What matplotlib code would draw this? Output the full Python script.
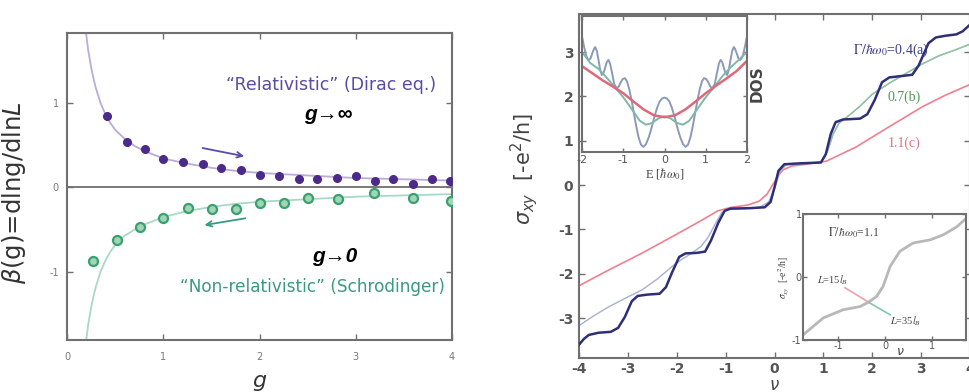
import matplotlib
matplotlib.use('Agg')
import matplotlib.pyplot as plt

plt.rcParams['axes.unicode_minus'] = False

## donnees panneau gauche (fonction beta)
g_dirac = [0.42, 0.62, 0.81, 1.0, 1.2, 1.41, 1.6, 1.81, 2.01, 2.2, 2.41, 2.6, 2.8, 3.0, 3.2, 3.39, 3.59, 3.79, 3.98]
beta_dirac = [0.84, 0.54, 0.45, 0.34, 0.30, 0.27, 0.23, 0.21, 0.15, 0.13, 0.10, 0.10, 0.11, 0.13, 0.07, 0.10, 0.04, 0.10, 0.07]
g_schr = [0.27, 0.52, 0.76, 1.0, 1.26, 1.51, 1.76, 2.0, 2.25, 2.5, 2.82, 3.19, 3.59, 3.99]
beta_schr = [-0.87, -0.62, -0.47, -0.36, -0.24, -0.25, -0.25, -0.19, -0.19, -0.13, -0.14, -0.07, -0.13, -0.16]

g_fit = [0.2, 0.22, 0.25, 0.28, 0.3, 0.35, 0.4, 0.45, 0.5, 0.6, 0.7, 0.8, 1.0, 1.25, 1.5, 1.75, 2.0, 2.5, 3.0, 3.5, 4.0]
beta_fit_dirac = [1.80, 1.62, 1.42, 1.26, 1.17, 0.99, 0.86, 0.76, 0.68, 0.57, 0.49, 0.43, 0.34, 0.28, 0.23, 0.195, 0.17, 0.14, 0.11, 0.095, 0.08]
beta_fit_schr = [-1.80, -1.62, -1.42, -1.26, -1.17, -0.99, -0.86, -0.76, -0.68, -0.57, -0.50, -0.44, -0.35, -0.28, -0.23, -0.195, -0.17, -0.14, -0.11, -0.095, -0.08]

## donnees panneau droit (sigma_xy)
nu_a = [-4.0, -3.9, -3.8, -3.6, -3.35, -3.2, -3.06, -2.92, -2.8, -2.6, -2.35, -2.22, -2.1, -1.95, -1.82, -1.6, -1.42,
        -1.3, -1.15, -1.02, -0.9, -0.5, -0.2, -0.08, 0.0, 0.08, 0.2, 0.5, 0.95, 1.05, 1.15, 1.25, 1.4, 1.75, 1.9, 2.05,
        2.2, 2.35, 2.6, 2.82, 2.95, 3.05, 3.15, 3.3, 3.5, 3.72, 3.85, 4.0]
sxy_a = [-3.60, -3.47, -3.38, -3.33, -3.31, -3.22, -2.97, -2.62, -2.50, -2.47, -2.45, -2.30, -1.98, -1.62, -1.54, -1.53,
         -1.50, -1.25, -0.85, -0.58, -0.53, -0.52, -0.50, -0.38, -0.05, 0.32, 0.47, 0.49, 0.51, 0.70, 1.15, 1.42, 1.48,
         1.50, 1.60, 1.92, 2.32, 2.43, 2.46, 2.49, 2.70, 2.95, 3.20, 3.33, 3.37, 3.40, 3.47, 3.62]
nu_b = [-4.0, -3.7, -3.4, -3.05, -2.72, -2.4, -2.11, -1.9, -1.7, -1.5, -1.36, -1.2, -1.08, -0.95, -0.6, -0.3, -0.12,
        0.0, 0.12, 0.25, 0.6, 0.95, 1.08, 1.2, 1.32, 1.5, 1.75, 2.0, 2.35, 2.69, 3.0, 3.37, 3.7, 4.0]
sxy_b = [-3.17, -2.95, -2.75, -2.55, -2.37, -2.12, -1.85, -1.68, -1.54, -1.38, -1.18, -0.85, -0.62, -0.55, -0.53, -0.50,
         -0.38, -0.08, 0.33, 0.46, 0.49, 0.52, 0.75, 1.15, 1.40, 1.55, 1.78, 2.05, 2.30, 2.52, 2.72, 2.92, 3.05, 3.18]
nu_c = [-4.0, -3.4, -2.72, -2.04, -1.5, -1.16, -0.88, -0.55, -0.31, -0.15, -0.03, 0.08, 0.17, 0.35, 0.65, 1.06, 1.67,
        2.35, 3.03, 3.5, 4.0]
sxy_c = [-2.27, -1.92, -1.54, -1.13, -0.80, -0.58, -0.50, -0.45, -0.36, -0.20, 0.02, 0.22, 0.34, 0.43, 0.47, 0.54, 0.86,
         1.32, 1.77, 2.03, 2.27]

## encart DOS
E_a = [-2.0, -1.95, -1.9, -1.86, -1.83, -1.79, -1.75, -1.71, -1.68, -1.64, -1.6, -1.56, -1.52, -1.48, -1.44, -1.4,
       -1.36, -1.32, -1.27, -1.22, -1.16, -1.11, -1.06, -1.01, -0.96, -0.91, -0.86, -0.8, -0.75, -0.69, -0.63, -0.57,
       -0.51, -0.45, -0.38, -0.31, -0.25, -0.18, -0.12, -0.06, 0.0,
       0.06, 0.12, 0.18, 0.25, 0.31, 0.38, 0.45, 0.51, 0.57, 0.63, 0.69, 0.75, 0.8, 0.86, 0.91, 0.96, 1.01, 1.06,
       1.11, 1.16, 1.22, 1.27, 1.32, 1.36, 1.4, 1.44, 1.48, 1.52, 1.56, 1.6, 1.64, 1.68, 1.71, 1.75, 1.79, 1.83, 1.86,
       1.9, 1.95, 2.0]
dos_a = [3.35, 3.12, 2.92, 2.84, 2.82, 2.86, 2.97, 3.07, 3.11, 3.02, 2.82, 2.60, 2.48, 2.52, 2.64, 2.77,
         2.82, 2.74, 2.52, 2.28, 2.18, 2.22, 2.32, 2.39, 2.41, 2.34, 2.18, 1.92, 1.66, 1.35, 1.08, 0.91,
         0.86, 0.92, 1.08, 1.30, 1.52, 1.74, 1.88, 1.95, 1.97,
         1.95, 1.88, 1.74, 1.52, 1.30, 1.08, 0.92, 0.86, 0.91, 1.08, 1.35, 1.66, 1.92, 2.18, 2.34, 2.41, 2.39, 2.32,
         2.22, 2.18, 2.28, 2.52, 2.74, 2.82, 2.77, 2.64, 2.52, 2.48, 2.60, 2.82, 3.02, 3.11, 3.07, 2.97, 2.86, 2.82,
         2.84, 2.92, 3.12, 3.35]
E_b = [-2.0, -1.8, -1.6, -1.4, -1.2, -1.0, -0.8, -0.6, -0.45, -0.3, -0.15, 0.0, 0.15, 0.3, 0.45, 0.6, 0.8, 1.0, 1.2,
       1.4, 1.6, 1.8, 2.0]
dos_b = [3.00, 2.75, 2.62, 2.42, 2.20, 1.98, 1.72, 1.45, 1.36, 1.40, 1.50, 1.55, 1.50, 1.40, 1.36, 1.45, 1.72, 1.98,
         2.20, 2.45, 2.65, 2.82, 3.00]
E_c = [-2.0, -1.75, -1.5, -1.25, -1.0, -0.75, -0.5, -0.25, 0.0, 0.25, 0.5, 0.75, 1.0, 1.25, 1.5, 1.75, 2.0]
dos_c = [2.68, 2.52, 2.36, 2.22, 2.07, 1.88, 1.70, 1.57, 1.53, 1.57, 1.70, 1.88, 2.07, 2.24, 2.40, 2.57, 2.80]

## encart taille finie
nu_L = [-1.74, -1.31, -0.89, -0.53, -0.35, -0.18, -0.04, 0.11, 0.32, 0.6, 0.96, 1.24, 1.53, 1.72]
sxy_L = [-0.92, -0.65, -0.52, -0.47, -0.40, -0.31, -0.15, 0.17, 0.41, 0.54, 0.59, 0.67, 0.80, 0.93]
nu_L15 = [-0.85, -0.35]
sxy_L15 = [-0.17, -0.40]
nu_L35 = [-0.35, 0.11]
sxy_L35 = [-0.40, -0.60]

W, H = 969, 392
gris = '#707070'
violet = '#4b2a8a'
vert = '#3a9a80'

fig = plt.figure(figsize=(W/100, H/100), dpi=100)


def cadre(ax, couleur=gris, lw=1.5):
    for s in ax.spines.values():
        s.set_color(couleur)
        s.set_linewidth(lw)


## PANNEAU GAUCHE
ax1 = fig.add_axes([67/W, 52/H, 385/W, 307/H])
ax1.plot(g_fit, beta_fit_dirac, color='#b9acd9', lw=1.3, zorder=2)
ax1.plot(g_fit, beta_fit_schr, color='#a9d9c4', lw=1.3, zorder=2)
ax1.axhline(0, color='#555555', lw=1.1, zorder=1)
ax1.plot(g_dirac, beta_dirac, 'o', color=violet, ms=5.5, zorder=3)
ax1.plot(g_schr, beta_schr, 'o', mfc='#9fd6b4', mec='#3aa070', mew=1.6, ms=6.5, zorder=3)
ax1.set_xlim(0, 4)
ax1.set_ylim(-1.8, 1.82)
ax1.set_xticks([0, 1, 2, 3, 4])
ax1.set_yticks([-1, 0, 1])
ax1.tick_params(direction='in', top=True, right=True, length=4, width=1, color=gris,
                labelsize=7, labelcolor='#777777')
ax1.tick_params(axis='x', pad=9)
ax1.tick_params(axis='y', pad=6)
cadre(ax1)
ax1.set_ylabel(r'$\beta$(g)=dlng/dln$L$', fontsize=17.5, color='#333333', math_fontfamily='dejavusans')
ax1.yaxis.set_label_coords(-0.1, 0.48)
ax1.set_xlabel('g', fontsize=16, style='italic', color='#333333')
ax1.xaxis.set_label_coords(0.5, -0.1)

ax1.text(2.74, 1.21, '\u201cRelativistic\u201d (Dirac eq.)', color='#5b4ba6', fontsize=12.5,
         ha='center', va='center')
ax1.text(2.55, -1.18, '\u201cNon-relativistic\u201d (Schrodinger)', color=vert, fontsize=12.2,
         ha='center', va='center')
ax1.text(2.72, 0.86, 'g\u2192\u221e', fontsize=15, weight='bold', style='italic',
         family=['Liberation Sans', 'DejaVu Sans'], ha='center', va='center')
ax1.text(2.78, -0.81, 'g\u21920', fontsize=15, weight='bold', style='italic',
         family=['Liberation Sans', 'DejaVu Sans'], ha='center', va='center')
ax1.annotate('', xy=(1.87, 0.36), xytext=(1.38, 0.47),
             arrowprops=dict(arrowstyle='->', color='#5b4ba6', lw=1.3))
ax1.annotate('', xy=(1.40, -0.45), xytext=(1.88, -0.36),
             arrowprops=dict(arrowstyle='->', color=vert, lw=1.3))

## PANNEAU DROIT
ax2 = fig.add_axes([579/W, 34/H, 391/W, 344/H])
ax2.plot(nu_c, sxy_c, color='#f08090', lw=1.2, zorder=2)
ax2.plot(nu_b, sxy_b, color='#a6b0cf', lw=1.0, zorder=2)
ax2.plot([v for v in nu_b if v >= 1.0], [s for v, s in zip(nu_b, sxy_b) if v >= 1.0], color='#8cc79a', lw=1.0, zorder=2)
ax2.plot(nu_a, sxy_a, color='#2e2f78', lw=1.8, zorder=3)
ax2.set_xlim(-4, 4)
ax2.set_ylim(-3.9, 3.86)
ax2.set_xticks(range(-4, 5))
ax2.set_yticks(range(-3, 4))
ax2.tick_params(direction='in', top=True, right=True, length=4, width=1, color=gris,
                labelsize=10, labelcolor='#555555', pad=4)
ax2.tick_params(axis='x', pad=3)
for lab in ax2.get_xticklabels() + ax2.get_yticklabels():
    lab.set_fontweight('bold')
cadre(ax2)
ax2.set_ylabel(r'$\sigma_{xy}$  [-e$^2$/h]', fontsize=15, color='#444444', math_fontfamily='dejavusans')
ax2.yaxis.set_label_coords(-0.1, 0.55)
ax2.set_xlabel(r'$\nu$', fontsize=12, color='#444444')
ax2.xaxis.set_label_coords(0.5, -0.052)

serif = ['Liberation Serif', 'DejaVu Serif']
ax2.text(3.15, 3.05, r'$\Gamma/\hbar\omega_0$=0.4(a)', color='#3a3a8a', fontsize=10, family=serif,
         math_fontfamily='stix', ha='right', va='center')
ax2.text(2.65, 1.99, '0.7(b)', color='#4a9a5a', fontsize=10, family=serif, ha='center', va='center')
ax2.text(2.65, 0.95, '1.1(c)', color='#e07080', fontsize=10, family=serif, ha='center', va='center')

## ENCART DOS
ins1 = fig.add_axes([582/W, 240/H, 165/W, 136/H])
ins1.plot(E_a, dos_a, color='#8c9ab8', lw=1.4)
ins1.plot(E_b, dos_b, color='#80b8a8', lw=1.4)
ins1.plot(E_c, dos_c, color='#e06878', lw=1.8)
ins1.set_xlim(-2, 2)
ins1.set_ylim(0.745, 3.81)
ins1.set_xticks([-2, -1, 0, 1, 2])
ins1.set_yticks([1, 2, 3])
ins1.set_yticklabels([])
ins1.tick_params(direction='in', top=True, right=True, length=3, width=1, color=gris,
                 labelsize=8, labelcolor='#555555', pad=2)
cadre(ins1)
ins1.set_xlabel(r'E [$\hbar\omega_0$]', fontsize=9, family=serif, math_fontfamily='stix',
                color='#444444', labelpad=1)
ins1.yaxis.set_label_position('right')
ins1.set_ylabel('DOS', fontsize=11, weight='bold', color='#444444', labelpad=2)

## ENCART TAILLE FINIE
ins2 = fig.add_axes([803/W, 52/H, 163/W, 126/H])
ins2.plot(nu_L, sxy_L, color='#b8b8b8', lw=2.0)
ins2.plot(nu_L15, sxy_L15, color='#f0a0b0', lw=1.2)
ins2.plot(nu_L35, sxy_L35, color='#80c8b0', lw=1.2)
ins2.set_xlim(-1.74, 1.72)
ins2.set_ylim(-1, 1)
ins2.set_xticks([-1, 0, 1])
ins2.set_yticks([-1, 0, 1])
ins2.tick_params(direction='in', top=True, right=True, length=3, width=1, color=gris,
                 labelsize=7, labelcolor='#555555', pad=1)
cadre(ins2)
ins2.set_ylabel(r'$\sigma_{xy}$  [-e$^2$/h]', fontsize=7, family=serif, math_fontfamily='stix',
                color='#444444', labelpad=1)
ins2.set_xlabel(r'$\nu$', fontsize=9, color='#444444')
ins2.xaxis.set_label_coords(0.6, -0.04)
ins2.text(-1.2, 0.7, r'$\Gamma/\hbar\omega_0$=1.1', fontsize=8.5, family=serif, math_fontfamily='stix',
          color='#444444', va='center')
ins2.text(-1.45, -0.05, r'$L$=15$l_B$', fontsize=7.5, family=serif, math_fontfamily='stix',
          color='#444444', va='center')
ins2.text(0.1, -0.7, r'$L$=35$l_B$', fontsize=7.5, family=serif, math_fontfamily='stix',
          color='#444444', va='center')

fig.savefig('out.png', dpi=100)
